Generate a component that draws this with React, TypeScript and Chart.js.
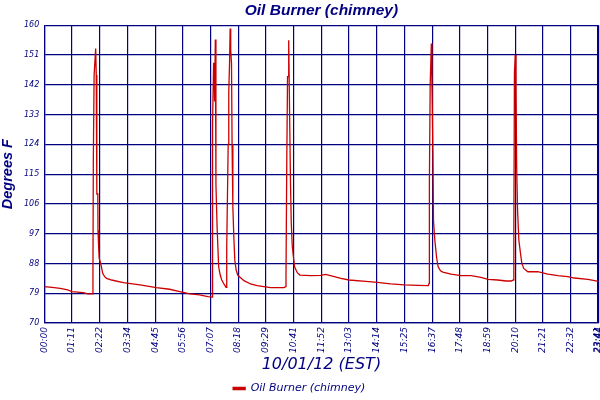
import { useEffect, useRef } from "react";
import { Chart, registerables } from "chart.js";

Chart.register(...registerables);

const chartTitle = "Oil Burner (chimney)";
const xTitle = "10/01/12 (EST)";
const yTitle = "Degrees F";
const seriesName = "Oil Burner (chimney)";

const xTickLabels = [
  "00:00", "01:11", "02:22", "03:34", "04:45", "05:56", "07:07", "08:18",
  "09:29", "10:41", "11:52", "13:03", "14:14", "15:25", "16:37", "17:48",
  "18:59", "20:10", "21:21", "22:32", "23:41", "23:44",
];
const yTicks = [70, 79, 88, 97, 106, 115, 124, 133, 142, 151, 160];

// minutes since midnight
const minutes = [
  0, 20, 41, 60, 71, 100, 112, 124,
  125, 126, 128, 130, 132, 133.5, 135, 137.5, 138, 140, 141, 145, 150, 155, 160, 173,
  203, 246, 288, 322, 348, 374, 399, 420, 431,
  431.6, 433, 435, 436.5, 437.5, 439.5, 441, 444, 448, 452, 456, 463, 467, 468.5,
  469, 472.5, 474, 476, 477.5, 479, 481, 482.5, 484.5, 487, 489.5, 493, 497,
  503, 513, 530, 547, 564, 582, 616, 620,
  621, 623, 625, 626.5, 628, 630, 632.5, 634.5, 637, 640, 643, 650, 657,
  685, 710, 723, 745, 762, 783, 826, 856, 890, 925, 960, 987,
  988.5, 989.5, 991.5, 994.5, 996, 998.5, 1000, 1003.5, 1008, 1012, 1018, 1024,
  1045, 1071, 1097, 1122, 1140, 1165, 1187, 1200, 1205,
  1206.5, 1208, 1210, 1212, 1213.7, 1216, 1219.4, 1223.6, 1227, 1232, 1242.5,
  1268, 1294, 1320, 1345, 1362, 1397, 1424,
];

const temps = [
  81, 80.8, 80.5, 80, 79.5, 79.2, 78.8, 78.8,
  85, 120, 145, 145, 153, 145, 109, 109, 98, 92, 89.5, 88, 85, 84, 83.5, 83,
  82.2, 81.5, 80.7, 80.2, 79.5, 78.8, 78.5, 78, 77.8,
  92.5, 130, 148.5, 148.5, 137, 155.7, 112, 99, 87, 84.5, 83, 81.5, 80.8, 80.8,
  93, 124, 140, 148.5, 159, 152.5, 148.5, 124, 105, 96, 89, 86, 84.5,
  83.8, 82.8, 81.8, 81.3, 81, 80.7, 80.7, 81,
  84, 118, 144.5, 144.5, 155.5, 136, 113, 100.5, 93.5, 90, 87, 85.2, 84.5,
  84.3, 84.4, 84.7, 84, 83.5, 83, 82.6, 82.3, 81.8, 81.5, 81.4, 81.3,
  82, 113, 142, 154.5, 142.5, 121, 101, 95, 89.8, 87, 85.8, 85.4,
  84.8, 84.3, 84.3, 83.8, 83.2, 83, 82.7, 82.7, 83,
  97, 145.5, 151, 141.5, 117.5, 104.2, 95, 91, 88, 86.5, 85.5,
  85.5, 84.8, 84.3, 84, 83.6, 83.2, 82.6,
];

const toMinutes = (s: string) => {
  const [h, m] = s.split(":").map(Number);
  return h * 60 + m;
};

const navy = "#000080";
const red = "#cc0000";

export default function App() {
  const chartRef = useRef<HTMLCanvasElement | null>(null);

  useEffect(() => {
    if (!chartRef.current) return;
    const chartInstance = new Chart(chartRef.current, {
      type: "line",
      data: {
        datasets: [
          {
            label: seriesName,
            data: minutes.map((t, i) => ({ x: t, y: temps[i] })),
            borderColor: red,
            backgroundColor: red,
            borderWidth: 1.3,
            pointRadius: 0,
            tension: 0,
            fill: false,
          },
        ],
      },
      options: {
        animation: false,
        responsive: true,
        maintainAspectRatio: false,
        layout: { padding: { left: 0, right: 1.5, top: 0, bottom: -4 } },
        plugins: {
          title: {
            display: true,
            text: chartTitle,
            fullSize: false,
            color: navy,
            padding: { top: 1, bottom: 5.7 },
            font: { family: "Liberation Sans", size: 15.5, style: "italic", weight: "bold" },
          },
          legend: {
            position: "bottom",
            labels: {
              color: navy,
              boxWidth: 12,
              boxHeight: 2,
              font: { family: "DejaVu Sans", size: 11, style: "italic" },
            },
          },
          tooltip: { enabled: false },
        },
        scales: {
          x: {
            type: "linear",
            min: 0,
            max: 1424,
            z: 1,
            afterBuildTicks: (scale: any) => {
              scale.ticks = xTickLabels.map((s) => ({ value: toMinutes(s) }));
            },
            afterFit: (scale: any) => {
              scale.height = 50;
              scale.paddingLeft = 0;
              scale.paddingRight = 0;
            },
            ticks: {
              autoSkip: false,
              maxRotation: 90,
              minRotation: 90,
              padding: 4,
              color: navy,
              font: { family: "DejaVu Sans", size: 9, style: "italic" },
              callback: (_v: any, i: number) => xTickLabels[i],
            },
            grid: { color: navy, lineWidth: 1.2, drawTicks: false },
            border: { color: navy, width: 1.2 },
            title: {
              display: true,
              text: xTitle,
              color: navy,
              padding: { top: 0, bottom: 0 },
              font: { family: "DejaVu Sans", size: 16, style: "italic", lineHeight: 1 },
            },
          },
          y: {
            min: 70,
            max: 160,
            afterBuildTicks: (scale: any) => {
              scale.ticks = yTicks.map((v) => ({ value: v }));
            },
            afterFit: (scale: any) => {
              scale.width = 44.3;
              scale.paddingTop = 0;
              scale.paddingBottom = 0;
            },
            ticks: {
              padding: 5,
              color: navy,
              font: { family: "DejaVu Sans", size: 8, style: "italic" },
            },
            grid: { color: navy, lineWidth: 1.2, drawTicks: false },
            border: { color: navy, width: 1.2 },
            title: {
              display: true,
              text: yTitle,
              color: navy,
              padding: 0,
              font: { family: "Liberation Sans", size: 14.5, style: "italic", weight: "bold", lineHeight: 1.1 },
            },
          },
        },
      },
    });

    return () => {
      chartInstance.destroy();
    };
  }, []);

  return (
    <div style={{ position: "fixed", left: 0, top: 0, width: 600, height: 400, background: "#fff" }}>
      <canvas ref={chartRef} />
    </div>
  );
}
